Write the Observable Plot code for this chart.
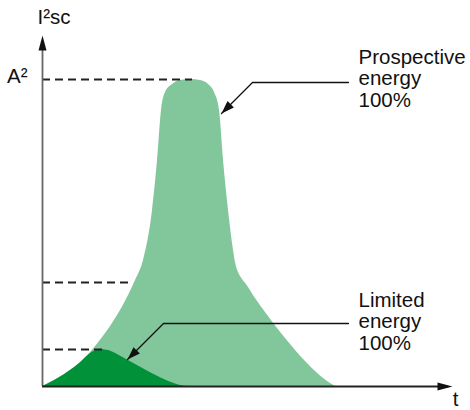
<!DOCTYPE html>
<html>
<head>
<meta charset="utf-8">
<script src="https://cdn.jsdelivr.net/npm/d3@7"></script>
<script src="https://cdn.jsdelivr.net/npm/@observablehq/plot@0.6"></script>
<style>
  html, body { margin: 0; padding: 0; background: #fff; }
  #chart svg { display: block; }
</style>
</head>
<body>
<div id="chart"></div>
<script>
// Prospective energy curve (t in % of axis length, energy in % of A²)
const prospT = [0,1.95,4.39,6.83,9.27,11.71,13.90,16.59,19.02,20.98,22.68,24.63,26.83,28.05,29.02,30.00,31.71,33.66,36.10,38.54,40.49,41.95,43.17,44.15,45.37,46.59,47.07,47.80,48.78,50.00,51.95,54.39,56.83,59.27,61.71,64.15,66.59,69.02,71.46];
const prospE = [0,0.98,2.61,4.89,7.65,11.07,14.66,19.54,24.76,29.64,34.53,41.04,57.33,73.62,89.90,95.77,98.37,99.67,100,99.67,98.37,95.77,89.90,73.62,57.33,44.30,40.39,37.13,34.85,32.74,28.66,24.10,19.71,15.64,11.73,8.14,4.89,2.12,0];
// Limited energy curve
const limT = [0,4.15,9.02,11.71,13.90,16.10,18.29,20.49,25.37,30.24,33.66,36.10];
const limE = [0,2.93,7.49,10.75,12.05,11.73,10.42,8.79,5.21,1.95,0.33,0];
// Dashed reference levels and where they end
const dashLevels = [100, 33.9, 12.05];
const dashEnds = [36.6, 22.2, 15.1];
// Leader lines
const prospLeaderT = [74.63, 51.22, 43.66];
const prospLeaderE = [99.02, 99.02, 88.93];
const limLeaderT = [74.63, 29.51, 20.73];
const limLeaderE = [20.52, 20.52, 8.79];
// Axis extents
const xTip = 100;
const yTop = 114.3;
// Texts
const yLabel = "I²sc";
const xLabel = "t";
const tickLabel = "A²";
const prospLabel = "Prospective\nenergy\n100%";
const limLabel = "Limited\nenergy\n100%";

const light = "#82c79c";
const dark = "#009139";
const font = "Liberation Sans, Arial, Helvetica, sans-serif";

const prosp = prospT.map((t, i) => ({t, e: prospE[i]}));
const lim = limT.map((t, i) => ({t, e: limE[i]}));
const dashes = dashLevels.map((e, i) => ({e, end: dashEnds[i]}));
const pLead = prospLeaderT.map((t, i) => ({t, e: prospLeaderE[i]}));
const lLead = limLeaderT.map((t, i) => ({t, e: limLeaderE[i]}));

function head(len, hw) {
  return { draw(ctx) { ctx.moveTo(0, 0); ctx.lineTo(-hw, len); ctx.lineTo(hw, len); ctx.closePath(); } };
}

const chart = Plot.plot({
  width: 470,
  height: 410,
  margin: 0,
  x: {domain: [0, 100], range: [42, 452], axis: null},
  y: {domain: [0, 100], range: [386, 79], axis: null},
  style: {background: "#fff"},
  marks: [
    Plot.areaY(prosp, {x: "t", y: "e", fill: light, curve: "monotone-x"}),
    Plot.areaY(lim, {x: "t", y: "e", fill: dark, curve: "monotone-x"}),
    Plot.ruleY(dashes, {y: "e", x1: 0, x2: "end", stroke: "#222", strokeWidth: 1.9, strokeDasharray: "8,5"}),
    Plot.ruleX([0], {y1: 0, y2: yTop - 3, stroke: "#666", strokeWidth: 1.8}),
    Plot.ruleY([0], {x1: 0, x2: xTip - 1, stroke: "#222", strokeWidth: 1.8}),
    Plot.dot([{t: 0, e: yTop}], {x: "t", y: "e", symbol: head(15, 4), rotate: 0, fill: "#111", stroke: "none"}),
    Plot.dot([{t: xTip, e: 0}], {x: "t", y: "e", symbol: head(15, 4), rotate: 90, fill: "#111", stroke: "none"}),
    Plot.line(pLead, {x: "t", y: "e", stroke: "#111", strokeWidth: 1.3}),
    Plot.line(lLead, {x: "t", y: "e", stroke: "#111", strokeWidth: 1.3}),
    Plot.dot([pLead[2], lLead[2]], {x: "t", y: "e", symbol: head(13, 4.5), rotate: 225, fill: "#111", stroke: "none"}),
    Plot.text([prospLabel], {x: 77.07, y: prospLeaderE[0], text: d => d, textAnchor: "start", lineAnchor: "middle", lineHeight: 1.05, dy: -4, fontSize: 20.5, fontFamily: font, fill: "#111"}),
    Plot.text([limLabel], {x: 77.07, y: limLeaderE[0], text: d => d, textAnchor: "start", lineAnchor: "middle", lineHeight: 1.05, dy: -2, fontSize: 20.5, fontFamily: font, fill: "#111"}),
    Plot.text([tickLabel], {x: 0, y: dashLevels[0], text: d => d, textAnchor: "end", dx: -15, dy: -3, fontSize: 20.5, fontFamily: font, fill: "#111"}),
    Plot.text([yLabel], {x: 0, y: yTop, text: d => d, textAnchor: "start", dx: -5, dy: -18, fontSize: 20.5, fontFamily: font, fill: "#111"}),
    Plot.text([xLabel], {x: xTip, y: 0, text: d => d, textAnchor: "middle", dx: 3, dy: 13, fontSize: 20.5, fontFamily: font, fill: "#111"})
  ]
});
document.getElementById("chart").appendChild(chart);
</script>
</body>
</html>
